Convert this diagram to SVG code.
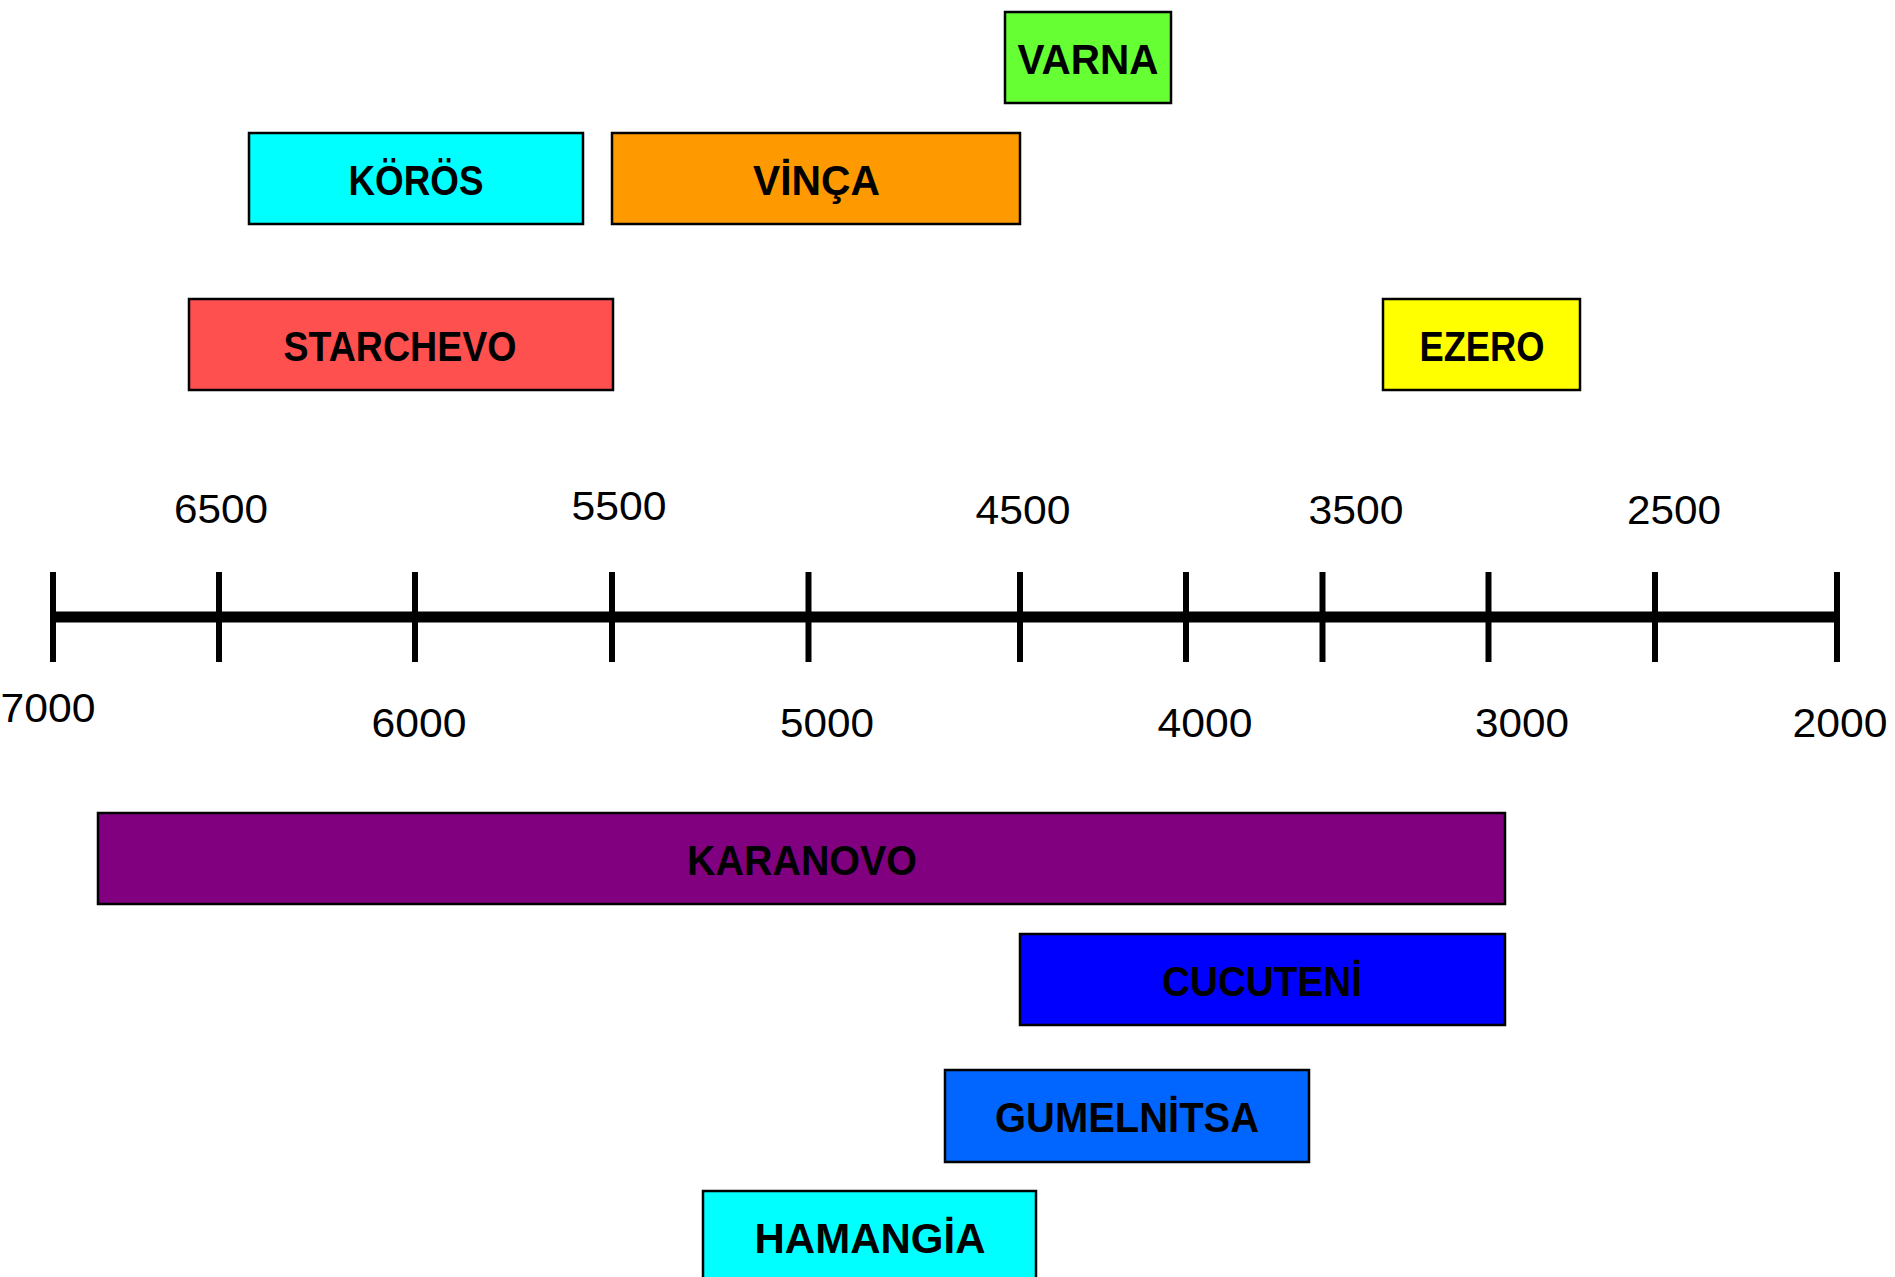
<svg xmlns="http://www.w3.org/2000/svg" width="1895" height="1277" viewBox="0 0 1895 1277">
<style>
.box{stroke:#000;stroke-width:2.5}
.lbl{font-family:"Liberation Sans",Arial,sans-serif;font-weight:bold;font-size:42px;fill:#000;text-anchor:middle}
.num{font-family:"Liberation Sans",Arial,sans-serif;font-size:41px;fill:#000;text-anchor:middle}
.tick{stroke:#000;stroke-width:6}
</style>
<rect width="1895" height="1277" fill="#fff"/>
<g id="axis">
<line x1="53" y1="617" x2="1837" y2="617" stroke="#000" stroke-width="11"/>
<line class="tick" x1="53" y1="572" x2="53" y2="662"/>
<line class="tick" x1="219" y1="572" x2="219" y2="662"/>
<line class="tick" x1="415" y1="572" x2="415" y2="662"/>
<line class="tick" x1="612" y1="572" x2="612" y2="662"/>
<line class="tick" x1="808.5" y1="572" x2="808.5" y2="662"/>
<line class="tick" x1="1020" y1="572" x2="1020" y2="662"/>
<line class="tick" x1="1186" y1="572" x2="1186" y2="662"/>
<line class="tick" x1="1322.5" y1="572" x2="1322.5" y2="662"/>
<line class="tick" x1="1488.5" y1="572" x2="1488.5" y2="662"/>
<line class="tick" x1="1655" y1="572" x2="1655" y2="662"/>
<line class="tick" x1="1837" y1="572" x2="1837" y2="662"/>
<text class="num" x="221" y="523" textLength="94" lengthAdjust="spacingAndGlyphs">6500</text>
<text class="num" x="619" y="520" textLength="95" lengthAdjust="spacingAndGlyphs">5500</text>
<text class="num" x="1023" y="524" textLength="95" lengthAdjust="spacingAndGlyphs">4500</text>
<text class="num" x="1356" y="524" textLength="95" lengthAdjust="spacingAndGlyphs">3500</text>
<text class="num" x="1674" y="524" textLength="94" lengthAdjust="spacingAndGlyphs">2500</text>
<text class="num" x="48" y="722" textLength="95" lengthAdjust="spacingAndGlyphs">7000</text>
<text class="num" x="419" y="737" textLength="95" lengthAdjust="spacingAndGlyphs">6000</text>
<text class="num" x="827" y="737" textLength="94" lengthAdjust="spacingAndGlyphs">5000</text>
<text class="num" x="1205" y="737" textLength="95" lengthAdjust="spacingAndGlyphs">4000</text>
<text class="num" x="1522" y="737" textLength="94" lengthAdjust="spacingAndGlyphs">3000</text>
<text class="num" x="1840" y="737" textLength="95" lengthAdjust="spacingAndGlyphs">2000</text>
</g>
<g id="varna"><rect class="box" x="1005" y="12" width="166" height="91" fill="#66FF33"/><text class="lbl" x="1088" y="74" textLength="141" lengthAdjust="spacingAndGlyphs">VARNA</text></g>
<g id="koros"><rect class="box" x="249" y="133" width="334" height="91" fill="#00FFFF"/><text class="lbl" x="416" y="195" textLength="135" lengthAdjust="spacingAndGlyphs">KÖRÖS</text></g>
<g id="vinca"><rect class="box" x="612" y="133" width="408" height="91" fill="#FF9900"/><text class="lbl" x="816.5" y="195" textLength="127" lengthAdjust="spacingAndGlyphs">VİNÇA</text></g>
<g id="starchevo"><rect class="box" x="189" y="299" width="424" height="91" fill="#FF5050"/><text class="lbl" x="400" y="361" textLength="233" lengthAdjust="spacingAndGlyphs">STARCHEVO</text></g>
<g id="ezero"><rect class="box" x="1383" y="299" width="197" height="91" fill="#FFFF00"/><text class="lbl" x="1482" y="361" textLength="125" lengthAdjust="spacingAndGlyphs">EZERO</text></g>
<g id="karanovo"><rect class="box" x="98" y="813" width="1407" height="91" fill="#800080"/><text class="lbl" x="802" y="875" textLength="230" lengthAdjust="spacingAndGlyphs">KARANOVO</text></g>
<g id="cucuteni"><rect class="box" x="1020" y="934" width="485" height="91" fill="#0000FF"/><text class="lbl" x="1262" y="996" textLength="200" lengthAdjust="spacingAndGlyphs">CUCUTENİ</text></g>
<g id="gumelnitsa"><rect class="box" x="945" y="1070" width="364" height="92" fill="#0066FF"/><text class="lbl" x="1127" y="1132" textLength="264" lengthAdjust="spacingAndGlyphs">GUMELNİTSA</text></g>
<g id="hamangia"><rect class="box" x="703" y="1191" width="333" height="100" fill="#00FFFF"/><text class="lbl" x="870" y="1253" textLength="231" lengthAdjust="spacingAndGlyphs">HAMANGİA</text></g>
<g id="connectors"></g>
</svg>
